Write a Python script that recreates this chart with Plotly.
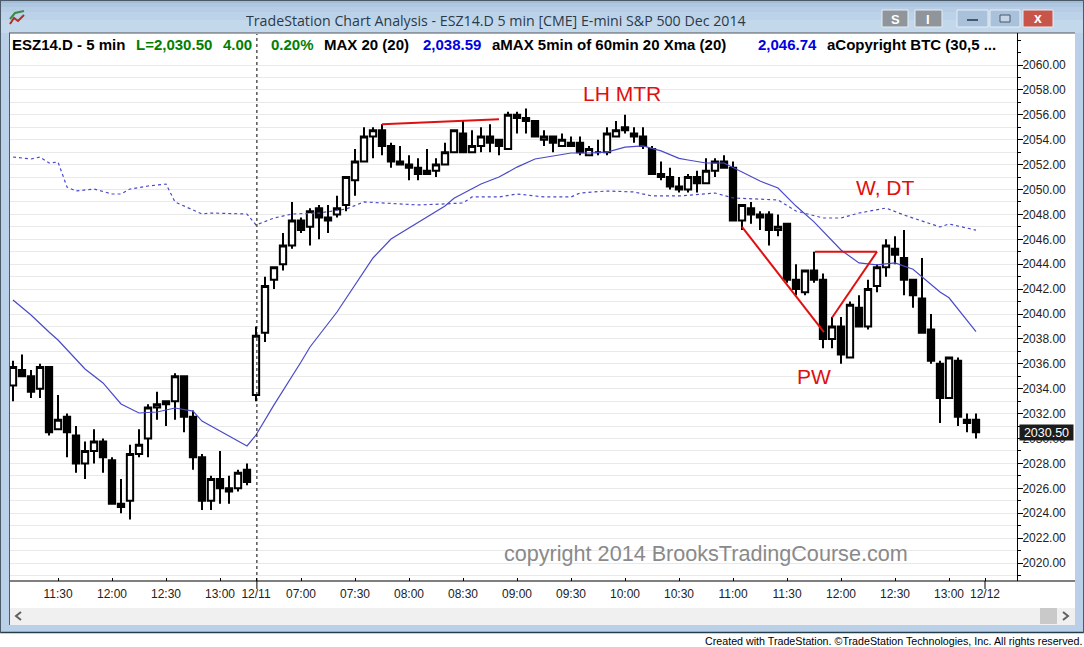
import plotly.graph_objects as go

# ---- OHLC, one row per 5-minute bar ----
opens = [2034.25,2035.5,2035.0,2034.0,2035.75,2030.75,2031.75,2030.25,2028.0,2029.0,2029.75,2028.25,2024.75,2025.0,2028.75,2030.0,2032.5,2032.75,2033.0,2035.0,2031.75,2028.5,2025.0,2026.75,2026.0,2026.0,2027.5,
         2033.5,2038.5,2042.75,2044.0,2045.5,2047.5,2047.0,2048.5,2047.75,2048.0,2048.75,2050.75,2052.25,2054.25,2054.75,2053.5,2052.25,2052.0,2051.75,2051.5,2051.5,2052.0,2053.0,2054.5,2053.0,2053.5,2054.25,2054.0,2053.25,2056.0,
         2055.75,2055.5,2054.0,2054.25,2053.5,2053.75,2053.75,2052.75,2053.0,2053.0,2054.25,2055.0,2054.5,2054.25,2053.25,2051.25,2051.0,2050.25,2050.0,2051.0,2050.5,2051.5,2052.25,2051.75,2047.5,2048.5,2048.0,2048.0,2046.75,2047.25,2042.75,2041.75,2043.5,2042.75,2038.0,2039.0,2036.5,2040.5,2039.0,2042.25,2043.75,2045.25,2044.5,2042.75,2041.25,2038.75,2036.0,2033.25,2036.25,2031.5,2031.5]
highs = [2036.25,2036.75,2035.5,2036.0,2035.75,2033.5,2032.0,2031.0,2029.75,2030.75,2030.0,2028.5,2026.75,2029.5,2030.75,2032.75,2033.75,2033.0,2035.25,2035.0,2032.25,2028.75,2027.0,2029.0,2027.0,2027.5,2028.0,
         2039.0,2043.0,2043.75,2046.5,2049.0,2047.75,2048.5,2048.75,2048.75,2049.5,2051.0,2053.25,2055.0,2055.0,2055.25,2053.75,2053.5,2052.75,2052.5,2053.25,2052.5,2053.75,2054.75,2055.5,2054.75,2055.0,2055.25,2054.0,2056.25,2056.25,
         2056.5,2055.5,2054.75,2054.25,2054.5,2054.25,2054.25,2053.5,2054.0,2055.0,2055.5,2056.0,2055.0,2055.0,2053.5,2052.25,2051.75,2051.0,2051.25,2051.5,2052.5,2052.5,2052.75,2052.25,2048.75,2049.0,2048.25,2048.25,2048.0,2047.25,2044.0,2043.5,2045.0,2043.25,2039.75,2039.75,2041.0,2041.5,2042.75,2044.0,2046.0,2046.25,2046.75,2042.75,2044.5,2040.0,2036.25,2036.5,2036.5,2032.0,2032.0]
lows = [2033.0,2035.0,2033.25,2033.25,2030.25,2030.75,2028.5,2027.25,2026.75,2028.0,2027.25,2024.75,2024.0,2023.5,2028.5,2028.5,2031.5,2031.0,2031.5,2030.5,2027.5,2024.25,2024.25,2024.75,2024.75,2025.75,2026.25,
         2033.0,2037.75,2042.0,2043.5,2045.25,2046.5,2045.5,2046.0,2046.5,2047.75,2048.25,2049.5,2052.25,2052.5,2052.75,2051.75,2052.0,2050.75,2050.75,2051.25,2051.0,2052.0,2053.0,2053.0,2053.0,2053.0,2053.0,2052.75,2053.25,2054.5,
         2054.5,2054.25,2053.5,2053.0,2053.5,2053.5,2052.75,2052.75,2052.75,2052.75,2054.25,2054.5,2053.75,2053.25,2051.25,2050.75,2050.0,2049.75,2049.75,2049.75,2050.5,2051.0,2051.75,2047.5,2046.75,2047.25,2046.75,2045.5,2046.25,2042.5,2041.5,2041.5,2042.5,2037.25,2037.25,2036.0,2036.5,2039.0,2038.75,2041.75,2043.0,2044.0,2041.5,2040.5,2038.5,2036.0,2031.25,2033.25,2031.0,2030.5,2030.0]
closes = [2035.75,2035.0,2033.75,2035.75,2030.5,2031.5,2030.5,2028.0,2029.0,2029.75,2028.5,2024.75,2024.5,2028.75,2029.5,2032.5,2032.75,2033.0,2035.0,2031.75,2028.5,2025.0,2026.75,2026.0,2025.75,2027.25,2026.5,
         2038.25,2042.25,2043.75,2045.5,2047.5,2046.75,2048.25,2047.75,2047.5,2048.5,2051.0,2052.25,2054.25,2054.75,2053.5,2052.25,2052.0,2051.75,2051.25,2051.25,2052.0,2053.0,2054.75,2053.0,2053.5,2054.25,2053.75,2053.5,2056.0,2055.75,
         2055.5,2054.25,2054.25,2053.75,2054.0,2053.5,2053.0,2053.25,2053.0,2054.5,2054.75,2054.75,2054.25,2053.5,2051.25,2051.0,2050.25,2050.0,2051.0,2050.5,2051.5,2052.25,2051.75,2047.5,2048.75,2048.0,2047.75,2046.75,2047.0,2042.75,2042.0,2043.5,2042.75,2038.0,2039.0,2036.75,2040.75,2039.0,2042.0,2043.75,2045.5,2044.75,2042.75,2041.5,2038.5,2036.25,2033.25,2036.5,2031.75,2031.25,2030.5]

# ---- moving averages read at selected bars ----
ma_bars = [0,2,4,5,8,10,12,14,16,18,20,21,24,26,27,29,32,33,36,40,42,44,48,49,52,54,56,58,60,62,64,66,68,70,72,74,75,77,79,81,83,85,87,89,92,94,96,98,100,103,104,107]
ma_vals = [2041.12,2039.92,2038.55,2037.91,2035.58,2034.46,2032.77,2032.05,2032.13,2032.45,2032.2,2031.4,2030.2,2029.4,2030.28,2032.7,2036.14,2037.35,2040.16,2044.5,2046.02,2046.9,2048.67,2049.3,2050.44,2051.0,2051.8,2052.45,2052.7,2052.93,2052.93,2053.0,2053.41,2053.5,2053.1,2052.5,2052.37,2052.13,2052.13,2051.4,2050.68,2050.12,2048.67,2047.4,2045.14,2044.1,2043.94,2044.1,2043.6,2041.77,2041.3,2038.59]
xma_bars = [0,2,3,4,5,6,7,9,11,12,13,15,17,18,21,22,26,27,29,31,34,37,39,45,48,50,51,54,56,59,62,63,66,69,71,74,78,80,85,87,90,92,94,97,99,103,104,107]
xma_vals = [2052.61,2052.45,2052.61,2052.13,2052.21,2050.2,2049.88,2050.04,2049.64,2049.64,2050.04,2050.28,2050.44,2049.0,2048.03,2048.11,2048.03,2047.15,2047.71,2048.03,2048.11,2048.43,2049.0,2048.76,2048.84,2048.92,2049.4,2049.4,2049.64,2049.4,2049.4,2049.72,2049.88,2049.8,2049.48,2049.48,2049.72,2049.32,2049.16,2048.27,2047.71,2047.71,2048.11,2048.51,2047.95,2046.99,2047.23,2046.74]

# ---- axes ----
x_tick_bars = [5,11,17,23,27,32,38,44,50,56,62,68,74,80,86,92,98,104,108]
x_tick_text = ["11:30","12:00","12:30","13:00","12/11","07:00","07:30","08:00","08:30","09:00","09:30","10:00","10:30","11:00","11:30","12:00","12:30","13:00","12/12"]
y_ticks = list(range(2020, 2062, 2))
y_tick_text = [f"{v}.00" for v in y_ticks]
last_price = 2030.50

# ---- drawn trend lines (bar, price) ----
red_lines = [((41,2055.25),(54,2055.65)), ((81,2047.0),(90.1,2038.55)), ((89.1,2045.0),(96,2045.0)), ((96,2045.0),(91,2039.7))]
labels = [("LH MTR",67.7,2057.75), ("W, DT",96.9,2050.2), ("PW",89,2035.0)]

W, H = 1084, 647
def px(v): return v / W
def py(v): return 1 - v / H
X0, X1, Y0, Y1 = 10, 1017, 33, 581
BAR0, BAR_W = 13, 9
PPU, P65 = 12.45, 2060

FRAME = "#b9d0e8"
ARIAL = "Liberation Sans"

fig = go.Figure()
fig.add_trace(go.Candlestick(
    x=list(range(len(opens))), open=opens, high=highs, low=lows, close=closes,
    increasing=dict(fillcolor="white", line=dict(color="black", width=2)),
    decreasing=dict(fillcolor="black", line=dict(color="black", width=2)),
    whiskerwidth=0, showlegend=False, hoverinfo="skip"))
fig.add_trace(go.Scatter(x=ma_bars, y=ma_vals, mode="lines", line=dict(color="#4a4ac8", width=1.2), showlegend=False, hoverinfo="skip"))
fig.add_trace(go.Scatter(x=xma_bars, y=xma_vals, mode="lines", line=dict(color="#4a4ac8", width=1.2, dash="3px,3px"), showlegend=False, hoverinfo="skip"))

def rect(x0, y0, x1, y1, fill, layer="below", line=None):
    return dict(type="rect", xref="paper", yref="paper", x0=px(x0), x1=px(x1), y0=py(y0), y1=py(y1),
                fillcolor=fill, line=dict(width=0) if line is None else dict(color=line, width=1), layer=layer)
def seg(x0, y0, x1, y1, color, width=1, layer="above", dash=None):
    return dict(type="line", xref="paper", yref="paper", x0=px(x0), x1=px(x1), y0=py(y0), y1=py(y1),
                line=dict(color=color, width=width, dash=dash), layer=layer)

shapes = []
# window frame
shapes += [rect(0, 0, W, 33, FRAME), rect(0, 0, 9, 633, FRAME), rect(1075, 0, W, 633, FRAME), rect(0, 625, W, 633, FRAME)]
for top, col in [(0,"#a3bcd6"),(3,"#aec6df"),(7,"#b6cde5"),(12,"#bcd2e9"),(20,"#c4d8ec")]:
    shapes.append(rect(0, top, W, 33, col))
shapes += [seg(0, 632.5, W, 632.5, "#23404a", 1.5, "below"), seg(0.5, 0, 0.5, 633, "#4a5a68", 1, "below"),
           seg(W-0.5, 0, W-0.5, 633, "#4a5a68", 1, "below"), seg(0, 0.5, W, 0.5, "#4a5a68", 1, "below"),
           seg(9.5, 33, 9.5, 625, "#5a5a5a", 1, "below"), seg(9, 33, 1075, 33, "#555555", 1, "below")]
# scrollbar
shapes += [rect(10, 608, 1075, 625, "#f0f0f0"), rect(1040, 608, 1057, 624, "#c9c9c9")]
shapes += [dict(type="path", xref="paper", yref="paper", path=f"M {px(21)} {py(612)} L {px(16)} {py(616)} L {px(21)} {py(620)}", line=dict(color="#606060", width=2), layer="below"),
           dict(type="path", xref="paper", yref="paper", path=f"M {px(1063)} {py(612)} L {px(1068)} {py(616)} L {px(1063)} {py(620)}", line=dict(color="#606060", width=2), layer="below")]
# window buttons
for a, b, fill in [(882,908,"#8f959b"),(915,942,"#8f959b"),(957,988,"#a9c1da"),(990,1020,"#a9c1da"),(1023,1053,"#c8554a")]:
    shapes.append(rect(a, 10, b, 27, fill, "below", "#e6eef6"))
shapes += [rect(967, 19, 978, 21, "#44586c"), rect(1000, 15, 1010, 22, "#c5d5e5", "below", "#44586c")]
# window icon
shapes += [dict(type="path", xref="paper", yref="paper", path=f"M {px(10)} {py(24)} L {px(14)} {py(18)} L {px(18)} {py(21)} L {px(24)} {py(15)}", line=dict(color="#b03020", width=2), layer="below"),
           dict(type="path", xref="paper", yref="paper", path=f"M {px(10)} {py(19)} L {px(15)} {py(13)} L {px(24)} {py(11)}", line=dict(color="#3a8a4a", width=2), layer="below")]
# legend band mask, session break, axis line
shapes.append(rect(10, 34, 1016.4, 60, "white", "above"))
shapes.append(dict(type="line", xref="x", yref="paper", x0=27.1, x1=27.1, y0=py(581), y1=py(34), line=dict(color="black", width=1, dash="3px,3px"), layer="above"))
shapes.append(dict(type="line", xref="x", yref="paper", x0=27.1, x1=27.1, y0=py(581), y1=py(589), line=dict(color="black", width=1), layer="above"))
shapes.append(dict(type="line", xref="x", yref="paper", x0=108, x1=108, y0=py(581), y1=py(589), line=dict(color="black", width=1), layer="above"))
shapes.append(seg(10, 581, 1075, 581, "black", 1.2))
# red trend lines
for (a, b) in red_lines:
    shapes.append(dict(type="line", xref="x", yref="y", x0=a[0], y0=a[1], x1=b[0], y1=b[1], line=dict(color="#e01010", width=2), layer="above"))

ann = []
def txt(x, y, s, size, color="black", bold=False, anchor="left", font=ARIAL):
    ann.append(dict(xref="paper", yref="paper", x=px(x), y=py(y), text=f"<b>{s}</b>" if bold else s, showarrow=False,
                    xanchor=anchor, yanchor="middle", font=dict(family=font, size=size, color=color), bgcolor="rgba(0,0,0,0)", borderpad=0))
txt(496, 20, "TradeStation Chart Analysis - ESZ14.D 5 min [CME] E-mini S&P 500 Dec 2014", 14.2, "#2a3a4a", anchor="center", font="Open Sans")
txt(895, 19, "S", 13, "white", True, "center"); txt(928, 19, "I", 13, "white", True, "center"); txt(1038, 18, "x", 14, "white", True, "center")
for x, s, c in [(11,"ESZ14.D - 5 min","black"),(135,"L=2,030.50","#008000"),(222,"4.00","#008000"),(270,"0.20%","#008000"),
                (323,"MAX 20 (20)","black"),(422,"2,038.59","#0000e0"),(491,"aMAX 5min of 60min 20 Xma (20)","black"),
                (757,"2,046.74","#0000e0"),(826,"aCopyright BTC (30,5 ...","black")]:
    txt(x, 44, s, 15, c, True)
txt(706, 553, "copyright 2014 BrooksTradingCourse.com", 21.6, "#8a8a8a", anchor="center")
txt(1083, 641, "Created with TradeStation. ©TradeStation Technologies, Inc. All rights reserved.", 10.7, "black", anchor="right")
for s, bar, price in labels:
    ann.append(dict(xref="x", yref="y", x=bar, y=price, text=s, showarrow=False, xanchor="center", yanchor="middle",
                    font=dict(family=ARIAL, size=21, color="#e01010")))
ann.append(dict(xref="paper", yref="y", x=px(1019), y=last_price, text=f"{last_price:.2f}", showarrow=False, xanchor="left", yanchor="middle",
                width=53, height=15, align="center", bgcolor="#1c1c1c", borderpad=0, font=dict(family=ARIAL, size=12.5, color="white")))

fig.update_layout(
    width=W, height=H, autosize=False, margin=dict(l=0, r=0, t=0, b=0),
    paper_bgcolor="white", plot_bgcolor="white", showlegend=False, boxgap=0.3, boxgroupgap=0,
    shapes=shapes, annotations=ann,
    xaxis=dict(domain=[px(X0), px(X1)], range=[(X0-BAR0)/BAR_W, (X1-BAR0)/BAR_W], rangeslider=dict(visible=False),
               tickmode="array", tickvals=x_tick_bars, ticktext=x_tick_text, ticks="inside", ticklen=3, tickcolor="black",
               tickfont=dict(family=ARIAL, size=12, color="#222"), ticklabelstandoff=4, showgrid=False, zeroline=False, showline=False),
    yaxis=dict(domain=[py(Y1), py(Y0)], range=[P65-(Y1-65)/PPU, P65+(65-Y0)/PPU], side="right",
               tickmode="array", tickvals=y_ticks, ticktext=y_tick_text, ticks="outside", ticklen=5, tickcolor="black",
               tickfont=dict(family=ARIAL, size=12, color="#222"), ticklabelstandoff=-3, showgrid=True, gridcolor="#e9e9e9", gridwidth=1,
               minor=dict(dtick=1, tick0=2020, ticks="outside", ticklen=3, tickcolor="black", showgrid=True, gridcolor="#e9e9e9", gridwidth=1),
               zeroline=False, showline=True, linecolor="black", linewidth=1),
)
fig.write_html("out.html", config=dict(displayModeBar=False), post_script="document.body.style.margin='0';document.body.style.overflow='hidden';")
